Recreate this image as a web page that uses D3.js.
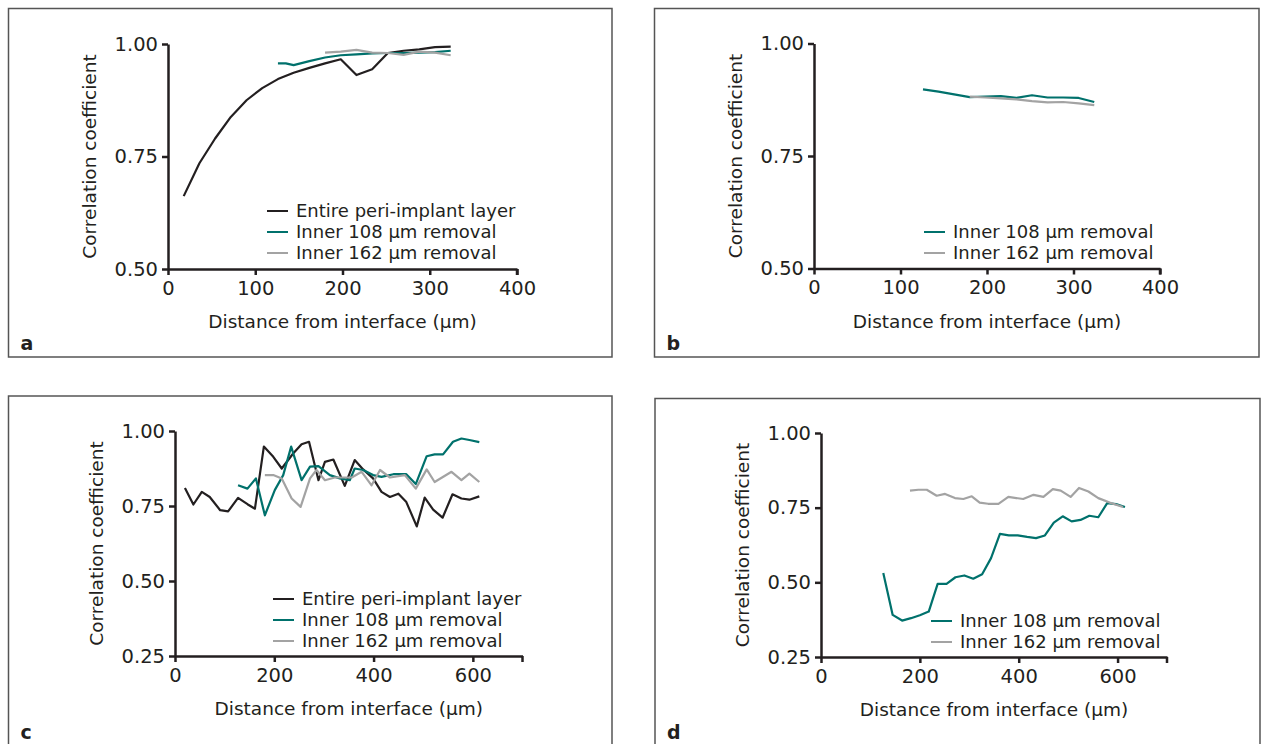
<!DOCTYPE html>
<html>
<head>
<meta charset="utf-8">
<script src="https://cdn.jsdelivr.net/npm/d3@7"></script>
<style>
  body { margin: 0; background: #fff; }
  svg { display: block; font-family: "DejaVu Sans", sans-serif; }
  .axis path, .axis line { stroke: #231f20; }
</style>
</head>
<body>
<div id="chart"></div>
<script>
// ---- data ----
var yTitle = "Correlation coefficient";
var xTitle = "Distance from interface (µm)";
var seriesNames = ["Entire peri-implant layer", "Inner 108 µm removal", "Inner 162 µm removal"];

// panel a
var aEntireX = [18, 36, 54, 72, 90, 108, 126, 144, 162, 180, 198, 216, 234, 252, 270, 288, 306, 324];
var aEntireY = [0.662, 0.735, 0.790, 0.838, 0.875, 0.902, 0.922, 0.936, 0.947, 0.957, 0.966, 0.931, 0.944, 0.980, 0.985, 0.988, 0.993, 0.994];
var a108X = [126, 135, 144, 162, 180, 198, 216, 234, 252, 270, 288, 306, 324];
var a108Y = [0.957, 0.957, 0.953, 0.962, 0.970, 0.975, 0.977, 0.979, 0.980, 0.980, 0.981, 0.982, 0.985];
var a162X = [180, 198, 216, 234, 252, 270, 288, 306, 324];
var a162Y = [0.981, 0.983, 0.987, 0.981, 0.980, 0.976, 0.983, 0.981, 0.975];

// panel b
var b108X = [126, 144, 162, 180, 198, 216, 234, 252, 270, 288, 306, 324];
var b108Y = [0.898, 0.893, 0.887, 0.881, 0.882, 0.883, 0.879, 0.885, 0.880, 0.880, 0.879, 0.870];
var b162X = [180, 198, 216, 234, 252, 270, 288, 306, 324];
var b162Y = [0.882, 0.880, 0.878, 0.876, 0.872, 0.869, 0.870, 0.867, 0.863];

// panel c
var cEntireX = [20, 37, 54, 70, 91, 107, 127, 146, 161, 179, 198, 215, 238, 255, 270, 289, 302, 319, 342, 362, 379, 399, 416, 433, 450, 466, 487, 503, 520, 539, 559, 577, 593, 613];
var cEntireY = [0.810, 0.755, 0.797, 0.780, 0.736, 0.732, 0.777, 0.756, 0.741, 0.948, 0.914, 0.875, 0.925, 0.956, 0.964, 0.836, 0.897, 0.905, 0.817, 0.903, 0.872, 0.842, 0.797, 0.780, 0.791, 0.763, 0.682, 0.778, 0.738, 0.711, 0.789, 0.775, 0.771, 0.782];
var c108X = [127, 146, 163, 181, 201, 218, 234, 255, 272, 289, 312, 332, 352, 362, 379, 399, 416, 440, 466, 485, 507, 523, 540, 560, 577, 593, 613];
var c108Y = [0.819, 0.808, 0.842, 0.719, 0.803, 0.853, 0.948, 0.836, 0.881, 0.883, 0.853, 0.842, 0.836, 0.875, 0.870, 0.853, 0.847, 0.856, 0.856, 0.823, 0.916, 0.922, 0.922, 0.964, 0.975, 0.970, 0.963];
var c162X = [181, 198, 215, 235, 253, 272, 285, 302, 322, 356, 376, 396, 413, 433, 463, 485, 507, 523, 557, 577, 593, 613];
var c162Y = [0.853, 0.853, 0.842, 0.775, 0.747, 0.842, 0.870, 0.836, 0.845, 0.845, 0.864, 0.819, 0.870, 0.845, 0.853, 0.808, 0.872, 0.830, 0.864, 0.836, 0.858, 0.830];

// panel d
var d108X = [126, 145, 164, 182, 200, 218, 236, 254, 272, 290, 308, 326, 344, 362, 380, 398, 417, 435, 453, 471, 489, 507, 525, 543, 561, 579, 597, 615];
var d108Y = [0.531, 0.391, 0.372, 0.380, 0.390, 0.402, 0.495, 0.495, 0.517, 0.523, 0.512, 0.527, 0.581, 0.662, 0.657, 0.657, 0.652, 0.648, 0.657, 0.700, 0.721, 0.704, 0.709, 0.723, 0.718, 0.765, 0.762, 0.752];
var d162X = [180, 197, 214, 234, 251, 271, 288, 305, 321, 338, 359, 379, 409, 430, 450, 469, 485, 505, 522, 541, 561, 584, 611];
var d162Y = [0.807, 0.810, 0.810, 0.790, 0.796, 0.782, 0.779, 0.788, 0.767, 0.763, 0.763, 0.786, 0.779, 0.793, 0.786, 0.812, 0.807, 0.786, 0.816, 0.804, 0.782, 0.767, 0.752];

var xTicksShort = [0, 100, 200, 300, 400];
var xTicksLong = [0, 200, 400, 600];
var yTicksShort = [0.5, 0.75, 1.0];
var yTicksLong = [0.25, 0.5, 0.75, 1.0];

var colors = ["#231f20", "#00716c", "#a3a3a3"];

function zip(xs, ys) {
  return xs.map(function(x, i) { return { x: x, y: ys[i] }; });
}

// panel layout (pixels)
var panels = [
  { label: "a", box: [8.5, 8.5, 612, 357], xr: [168, 517], yr: [269, 44], xd: [0, 400], yd: [0.5, 1],
    xt: xTicksShort, yt: yTicksShort, legendX: 267, legendY: 211,
    series: [zip(aEntireX, aEntireY), zip(a108X, a108Y), zip(a162X, a162Y)], keys: [0, 1, 2] },
  { label: "b", box: [654.5, 8.5, 1259, 357], xr: [814, 1160], yr: [268.5, 43.5], xd: [0, 400], yd: [0.5, 1],
    xt: xTicksShort, yt: yTicksShort, legendX: 924, legendY: 232,
    series: [zip(b108X, b108Y), zip(b162X, b162Y)], keys: [1, 2] },
  { label: "c", box: [8.5, 396, 612, 760], xr: [175, 522.5], yr: [656, 431], xd: [0, 700], yd: [0.25, 1],
    xt: xTicksLong, yt: yTicksLong, legendX: 273, legendY: 599,
    series: [zip(cEntireX, cEntireY), zip(c108X, c108Y), zip(c162X, c162Y)], keys: [0, 1, 2] },
  { label: "d", box: [655, 398.5, 1260, 760], xr: [821, 1167], yr: [657, 433], xd: [0, 700], yd: [0.25, 1],
    xt: xTicksLong, yt: yTicksLong, legendX: 931, legendY: 621,
    series: [zip(d108X, d108Y), zip(d162X, d162Y)], keys: [1, 2] }
];

var svg = d3.select("#chart").append("svg")
  .attr("width", 1266)
  .attr("height", 744);

panels.forEach(function(p) {
  var g = svg.append("g");

  // panel frame
  g.append("rect")
    .attr("x", p.box[0]).attr("y", p.box[1])
    .attr("width", p.box[2] - p.box[0]).attr("height", p.box[3] - p.box[1])
    .attr("fill", "none").attr("stroke", "#555").attr("stroke-width", 1.5);

  var x = d3.scaleLinear().domain(p.xd).range(p.xr);
  var y = d3.scaleLinear().domain(p.yd).range(p.yr);

  // lines first, axes on top
  var line = d3.line().x(function(d) { return x(d.x); }).y(function(d) { return y(d.y); });
  p.series.forEach(function(s, i) {
    g.append("path")
      .datum(s)
      .attr("d", line)
      .attr("fill", "none")
      .attr("stroke", colors[p.keys[i]])
      .attr("stroke-width", 2.2)
      .attr("stroke-linejoin", "round");
  });

  var xAxis = g.append("g").attr("class", "axis")
    .attr("transform", "translate(0," + p.yr[0] + ")")
    .call(d3.axisBottom(x).tickValues(p.xt).tickSize(6).tickSizeOuter(0).tickPadding(6).tickFormat(d3.format("d")));
  xAxis.attr("font-family", null).attr("font-size", null);
  xAxis.select(".domain").attr("stroke-width", 2.5);
  xAxis.selectAll(".tick line").attr("stroke-width", 2.5);
  xAxis.selectAll(".tick text").attr("font-size", 19.5).attr("fill", "#231f20");
  // end tick at the far right of the axis
  xAxis.append("line")
    .attr("x1", p.xr[1]).attr("x2", p.xr[1]).attr("y1", 0).attr("y2", 6)
    .attr("stroke", "#231f20").attr("stroke-width", 2.5);

  var yAxis = g.append("g").attr("class", "axis")
    .attr("transform", "translate(" + p.xr[0] + ",0)")
    .call(d3.axisLeft(y).tickValues(p.yt).tickSize(6).tickSizeOuter(0).tickPadding(4).tickFormat(d3.format(".2f")));
  yAxis.attr("font-family", null).attr("font-size", null);
  yAxis.select(".domain").attr("stroke-width", 2.5);
  yAxis.selectAll(".tick line").attr("stroke-width", 2.5);
  yAxis.selectAll(".tick text").attr("font-size", 19.5).attr("fill", "#231f20");

  // axis titles
  g.append("text")
    .attr("x", (p.xr[0] + p.xr[1]) / 2)
    .attr("y", p.yr[0] + 53)
    .attr("dy", "0.35em")
    .attr("text-anchor", "middle")
    .attr("font-size", 18.5)
    .attr("fill", "#231f20")
    .text(xTitle);

  g.append("text")
    .attr("text-anchor", "middle")
    .attr("transform", "translate(" + (p.xr[0] - 78) + "," + ((p.yr[0] + p.yr[1]) / 2) + ")rotate(-90)")
    .attr("dy", "0.35em")
    .attr("font-size", 18.5)
    .attr("fill", "#231f20")
    .text(yTitle);

  // legend
  p.keys.forEach(function(k, i) {
    var ly = p.legendY + i * 21;
    g.append("line")
      .attr("x1", p.legendX).attr("x2", p.legendX + 21)
      .attr("y1", ly).attr("y2", ly)
      .attr("stroke", colors[k]).attr("stroke-width", 2);
    g.append("text")
      .attr("x", p.legendX + 29)
      .attr("y", ly)
      .attr("dy", "0.35em")
      .attr("font-size", 18)
      .attr("fill", "#231f20")
      .text(seriesNames[k]);
  });

  // panel letter
  g.append("text")
    .attr("x", p.box[0] + 12)
    .attr("y", p.label === "a" || p.label === "b" ? 343 : 732)
    .attr("dy", "0.35em")
    .attr("font-size", 19)
    .attr("font-weight", "bold")
    .attr("fill", "#231f20")
    .text(p.label);
});
</script>
</body>
</html>
